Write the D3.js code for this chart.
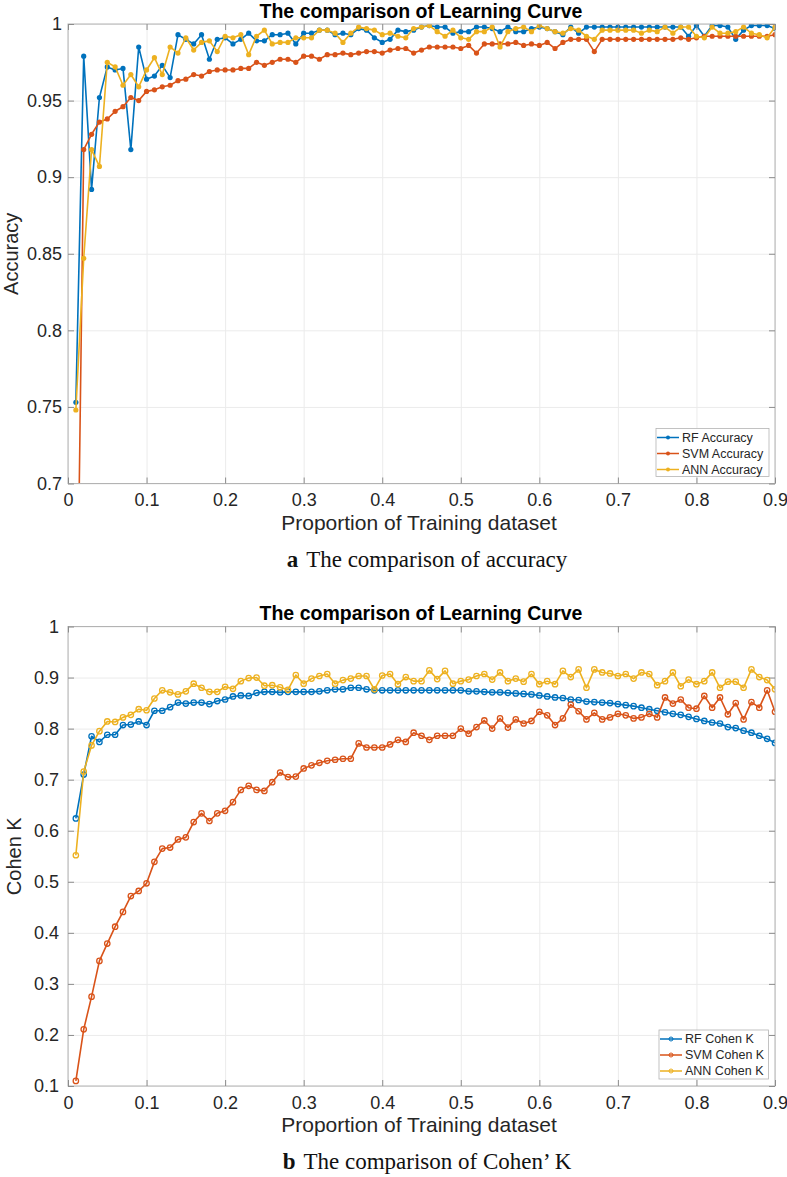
<!DOCTYPE html>
<html>
<head>
<meta charset="utf-8">
<script src="https://cdn.jsdelivr.net/npm/d3@7"></script>
<style>
  body { margin: 0; background: #fff; }
  text { font-family: "Liberation Sans", Arial, sans-serif; }
</style>
</head>
<body>
<svg id="svg"></svg>
<script>
// proportion of training dataset (x values of every series)
const proportion = [0.01,0.02,0.03,0.04,0.05,0.06,0.07,0.08,0.09,0.10,
  0.11,0.12,0.13,0.14,0.15,0.16,0.17,0.18,0.19,0.20,
  0.21,0.22,0.23,0.24,0.25,0.26,0.27,0.28,0.29,0.30,
  0.31,0.32,0.33,0.34,0.35,0.36,0.37,0.38,0.39,0.40,
  0.41,0.42,0.43,0.44,0.45,0.46,0.47,0.48,0.49,0.50,
  0.51,0.52,0.53,0.54,0.55,0.56,0.57,0.58,0.59,0.60,
  0.61,0.62,0.63,0.64,0.65,0.66,0.67,0.68,0.69,0.70,
  0.71,0.72,0.73,0.74,0.75,0.76,0.77,0.78,0.79,0.80,
  0.81,0.82,0.83,0.84,0.85,0.86,0.87,0.88,0.89,0.90];

// (a) accuracy
const rfAccuracy = [0.753,0.979,0.892,0.952,0.972,0.970,0.971,0.918,0.985,0.964,
  0.966,0.973,0.965,0.993,0.990,0.987,0.993,0.977,0.990,0.991,
  0.987,0.990,0.994,0.989,0.989,0.993,0.993,0.994,0.987,0.994,
  0.994,0.996,0.996,0.993,0.994,0.993,0.997,0.996,0.991,0.988,
  0.990,0.996,0.995,0.996,0.998,0.999,0.998,0.998,0.994,0.995,
  0.995,0.998,0.998,0.997,0.995,0.998,0.995,0.995,0.997,0.998,
  0.997,0.995,0.993,0.998,0.994,0.998,0.998,0.998,0.998,0.998,
  0.998,0.998,0.998,0.998,0.998,0.998,0.998,0.998,0.992,0.999,
  0.992,0.999,0.999,0.998,0.990,0.996,0.999,0.999,0.999,0.997];
const svmAccuracy = [0.530,0.918,0.928,0.936,0.938,0.943,0.946,0.952,0.950,0.956,
  0.957,0.959,0.960,0.963,0.964,0.967,0.966,0.969,0.970,0.970,
  0.970,0.971,0.971,0.975,0.973,0.975,0.977,0.977,0.975,0.979,
  0.979,0.977,0.980,0.980,0.981,0.980,0.981,0.982,0.982,0.981,
  0.983,0.984,0.984,0.981,0.983,0.985,0.985,0.985,0.985,0.984,
  0.986,0.981,0.987,0.987,0.987,0.987,0.988,0.986,0.987,0.986,
  0.988,0.984,0.988,0.990,0.990,0.990,0.982,0.990,0.990,0.990,
  0.990,0.990,0.990,0.990,0.990,0.990,0.990,0.991,0.990,0.991,
  0.992,0.992,0.992,0.992,0.992,0.992,0.992,0.992,0.992,0.993];
const annAccuracy = [0.748,0.847,0.918,0.907,0.975,0.972,0.960,0.967,0.959,0.970,
  0.978,0.967,0.985,0.981,0.991,0.983,0.988,0.989,0.982,0.992,
  0.991,0.993,0.980,0.992,0.996,0.987,0.988,0.988,0.991,0.991,
  0.991,0.996,0.996,0.994,0.988,0.994,0.998,0.997,0.996,0.993,
  0.994,0.992,0.991,0.997,0.998,0.999,0.995,0.992,0.996,0.991,
  0.990,0.995,0.995,0.998,0.985,0.995,0.997,0.998,0.995,0.999,
  0.997,0.995,0.994,0.997,0.996,0.992,0.990,0.996,0.996,0.996,
  0.996,0.996,0.994,0.996,0.995,0.998,0.994,0.998,0.998,0.992,
  0.991,0.998,0.994,0.994,0.995,0.998,0.994,0.993,0.991,0.998];

// (b) Cohen K
const rfKappa = [0.624,0.710,0.785,0.774,0.788,0.788,0.807,0.808,0.814,0.807,
  0.835,0.835,0.842,0.851,0.849,0.851,0.851,0.848,0.854,0.857,
  0.863,0.865,0.864,0.870,0.872,0.872,0.871,0.872,0.872,0.872,
  0.872,0.873,0.875,0.877,0.877,0.880,0.880,0.877,0.875,0.875,
  0.875,0.875,0.875,0.875,0.875,0.875,0.875,0.875,0.875,0.875,
  0.873,0.873,0.872,0.871,0.871,0.870,0.869,0.868,0.867,0.865,
  0.863,0.861,0.860,0.857,0.856,0.853,0.852,0.851,0.850,0.848,
  0.846,0.844,0.841,0.838,0.835,0.832,0.829,0.827,0.823,0.819,
  0.815,0.812,0.810,0.803,0.801,0.796,0.792,0.786,0.780,0.772];
const svmKappa = [0.110,0.211,0.275,0.345,0.379,0.412,0.441,0.472,0.482,0.497,
  0.539,0.565,0.567,0.583,0.587,0.617,0.634,0.619,0.634,0.639,
  0.656,0.680,0.688,0.680,0.678,0.695,0.714,0.705,0.706,0.722,
  0.728,0.733,0.737,0.739,0.741,0.741,0.771,0.763,0.763,0.763,
  0.769,0.778,0.774,0.792,0.786,0.778,0.786,0.786,0.786,0.800,
  0.790,0.803,0.816,0.800,0.820,0.802,0.818,0.810,0.815,0.833,
  0.826,0.807,0.820,0.847,0.834,0.818,0.831,0.818,0.822,0.829,
  0.826,0.820,0.822,0.829,0.822,0.861,0.849,0.857,0.841,0.839,
  0.864,0.841,0.861,0.828,0.850,0.818,0.852,0.841,0.875,0.833];
const annKappa = [0.552,0.716,0.767,0.795,0.814,0.813,0.822,0.827,0.838,0.836,
  0.859,0.875,0.871,0.867,0.873,0.888,0.880,0.872,0.872,0.882,
  0.878,0.893,0.899,0.900,0.884,0.885,0.881,0.876,0.905,0.888,
  0.898,0.903,0.907,0.888,0.895,0.898,0.903,0.903,0.877,0.904,
  0.907,0.887,0.901,0.893,0.893,0.914,0.897,0.913,0.888,0.893,
  0.896,0.903,0.907,0.896,0.910,0.893,0.898,0.892,0.907,0.887,
  0.893,0.887,0.913,0.901,0.916,0.880,0.916,0.910,0.908,0.903,
  0.907,0.898,0.910,0.907,0.885,0.893,0.910,0.883,0.896,0.887,
  0.893,0.910,0.880,0.892,0.892,0.880,0.916,0.901,0.895,0.877];

const xTicks = [0,0.1,0.2,0.3,0.4,0.5,0.6,0.7,0.8,0.9];
const accTicks = [0.7,0.75,0.8,0.85,0.9,0.95,1];
const kappaTicks = [0.1,0.2,0.3,0.4,0.5,0.6,0.7,0.8,0.9,1];
const accLegend = ["RF Accuracy","SVM Accuracy","ANN Accuracy"];
const kappaLegend = ["RF Cohen K","SVM Cohen K","ANN Cohen K"];

const colors = ["#0072BD","#D95319","#EDB120"];
const width = 787, height = 1177;
const left = 68, right = 775;

let svg = d3.select("#svg").attr("width", width).attr("height", height);

function fmt(d) { return String(+d.toFixed(2)); }

function panel(opt) {
    let top = opt.top, bottom = opt.top + 459.5;
    let x = d3.scaleLinear().domain([0, 0.9]).range([left, right]);
    let y = d3.scaleLinear().domain(opt.domain).range([bottom, top]);
    let g = svg.append("g");

    // grid
    g.append("g").attr("transform", `translate(0,${bottom})`)
        .call(d3.axisBottom(x).tickValues(xTicks).tickSize(-(bottom - top)).tickFormat(""))
        .call(a => a.select(".domain").remove())
        .selectAll("line").attr("stroke", "#ebebeb").attr("stroke-width", 1);
    g.append("g").attr("transform", `translate(${left},0)`)
        .call(d3.axisLeft(y).tickValues(opt.ticks).tickSize(-(right - left)).tickFormat(""))
        .call(a => a.select(".domain").remove())
        .selectAll("line").attr("stroke", "#ebebeb").attr("stroke-width", 1);

    // clip
    let cid = "clip" + opt.id;
    svg.append("clipPath").attr("id", cid).append("rect")
        .attr("x", left).attr("y", top).attr("width", right - left).attr("height", bottom - top);

    let line = d3.line().x((d, i) => x(proportion[i])).y(d => y(d));
    opt.series.forEach((s, k) => {
        let sg = g.append("g").attr("clip-path", `url(#${cid})`);
        sg.append("path").datum(s).attr("d", line)
            .attr("fill", "none").attr("stroke", colors[k]).attr("stroke-width", 1.6)
            .attr("stroke-linejoin", "round");
        sg.selectAll("circle").data(s).join("circle")
            .attr("cx", (d, i) => x(proportion[i])).attr("cy", d => y(d))
            .attr("r", opt.open ? 2.7 : 2.6)
            .attr("fill", opt.open ? "none" : colors[k])
            .attr("stroke", colors[k]).attr("stroke-width", opt.open ? 1.3 : 0);
    });

    // frame
    g.append("rect").attr("x", left).attr("y", top).attr("width", right - left).attr("height", bottom - top)
        .attr("fill", "none").attr("stroke", "#b3b3b3").attr("stroke-width", 1);

    // inward ticks on all four sides, labels on left and bottom
    let tickStyle = a => { a.select(".domain").remove(); a.selectAll("line").attr("stroke", "#8c8c8c"); };
    let xb = g.append("g").attr("transform", `translate(0,${bottom})`)
        .call(d3.axisBottom(x).tickValues(xTicks).tickSize(-6).tickPadding(10).tickFormat(fmt)).call(tickStyle);
    g.append("g").attr("transform", `translate(0,${top})`)
        .call(d3.axisTop(x).tickValues(xTicks).tickSize(-6).tickFormat("")).call(tickStyle);
    let yl = g.append("g").attr("transform", `translate(${left},0)`)
        .call(d3.axisLeft(y).tickValues(opt.ticks).tickSize(-6).tickPadding(opt.ypad).tickFormat(fmt)).call(tickStyle);
    g.append("g").attr("transform", `translate(${right},0)`)
        .call(d3.axisRight(y).tickValues(opt.ticks).tickSize(-6).tickFormat("")).call(tickStyle);
    xb.selectAll("text").attr("font-size", 18).attr("fill", "#262626")
        .attr("font-family", "Liberation Sans, Arial, sans-serif").attr("dy", "0.71em");
    yl.selectAll("text").attr("font-size", 18).attr("fill", "#262626")
        .attr("font-family", "Liberation Sans, Arial, sans-serif");

    // title and labels
    svg.append("text").attr("x", 421).attr("y", top - 6.5).attr("text-anchor", "middle")
        .attr("font-size", 19.5).attr("font-weight", "bold").attr("fill", "#000")
        .text("The comparison of Learning Curve");
    svg.append("text").attr("x", 419).attr("y", bottom + 46).attr("text-anchor", "middle")
        .attr("font-size", 21).attr("fill", "#262626").text("Proportion of Training dataset");
    svg.append("text").attr("transform", `translate(${opt.ylabelX},${(top + bottom) / 2}) rotate(-90)`)
        .attr("text-anchor", "middle").attr("font-size", 20).attr("fill", "#262626").text(opt.ylabel);

    // caption
    let cap = svg.append("text").attr("x", 427).attr("y", bottom + 83).attr("text-anchor", "middle")
        .attr("font-size", 23).attr("fill", "#111")
        .style("font-family", "'Liberation Serif', 'Times New Roman', serif");
    cap.append("tspan").attr("font-weight", "bold").text(opt.letter);
    cap.append("tspan").attr("dx", 8).text(opt.caption);

    // legend
    let L = opt.legend;
    let lg = svg.append("g");
    lg.append("rect").attr("x", L.x).attr("y", L.y).attr("width", L.w).attr("height", L.h)
        .attr("fill", "#fff").attr("stroke", "#b3b3b3").attr("stroke-width", 0.8);
    opt.names.forEach((n, k) => {
        let cy = L.y + 9 + k * 16;
        lg.append("line").attr("x1", L.x + 1).attr("x2", L.x + 23).attr("y1", cy).attr("y2", cy)
            .attr("stroke", colors[k]).attr("stroke-width", 1.5);
        lg.append("circle").attr("cx", L.x + 12).attr("cy", cy).attr("r", 2)
            .attr("fill", opt.open ? "none" : colors[k]).attr("stroke", colors[k]).attr("stroke-width", opt.open ? 1 : 0);
        lg.append("text").attr("x", L.x + 26).attr("y", cy).attr("dy", "0.35em")
            .attr("font-size", 12.5).attr("fill", "#262626").text(n);
    });
}

panel({ id: "a", top: 24, domain: [0.7, 1], ticks: accTicks, ylabel: "Accuracy", ylabelX: 18, ypad: 6,
    series: [rfAccuracy, svmAccuracy, annAccuracy], names: accLegend, open: false,
    letter: "a", caption: "The comparison of accuracy",
    legend: { x: 656, y: 428.5, w: 113, h: 48 } });

panel({ id: "b", top: 626.5, domain: [0.1, 1], ticks: kappaTicks, ylabel: "Cohen K", ylabelX: 21, ypad: 9,
    series: [rfKappa, svmKappa, annKappa], names: kappaLegend, open: true,
    letter: "b", caption: "The comparison of Cohen\u2019 K",
    legend: { x: 659, y: 1030, w: 109.5, h: 49 } });
</script>
</body>
</html>
